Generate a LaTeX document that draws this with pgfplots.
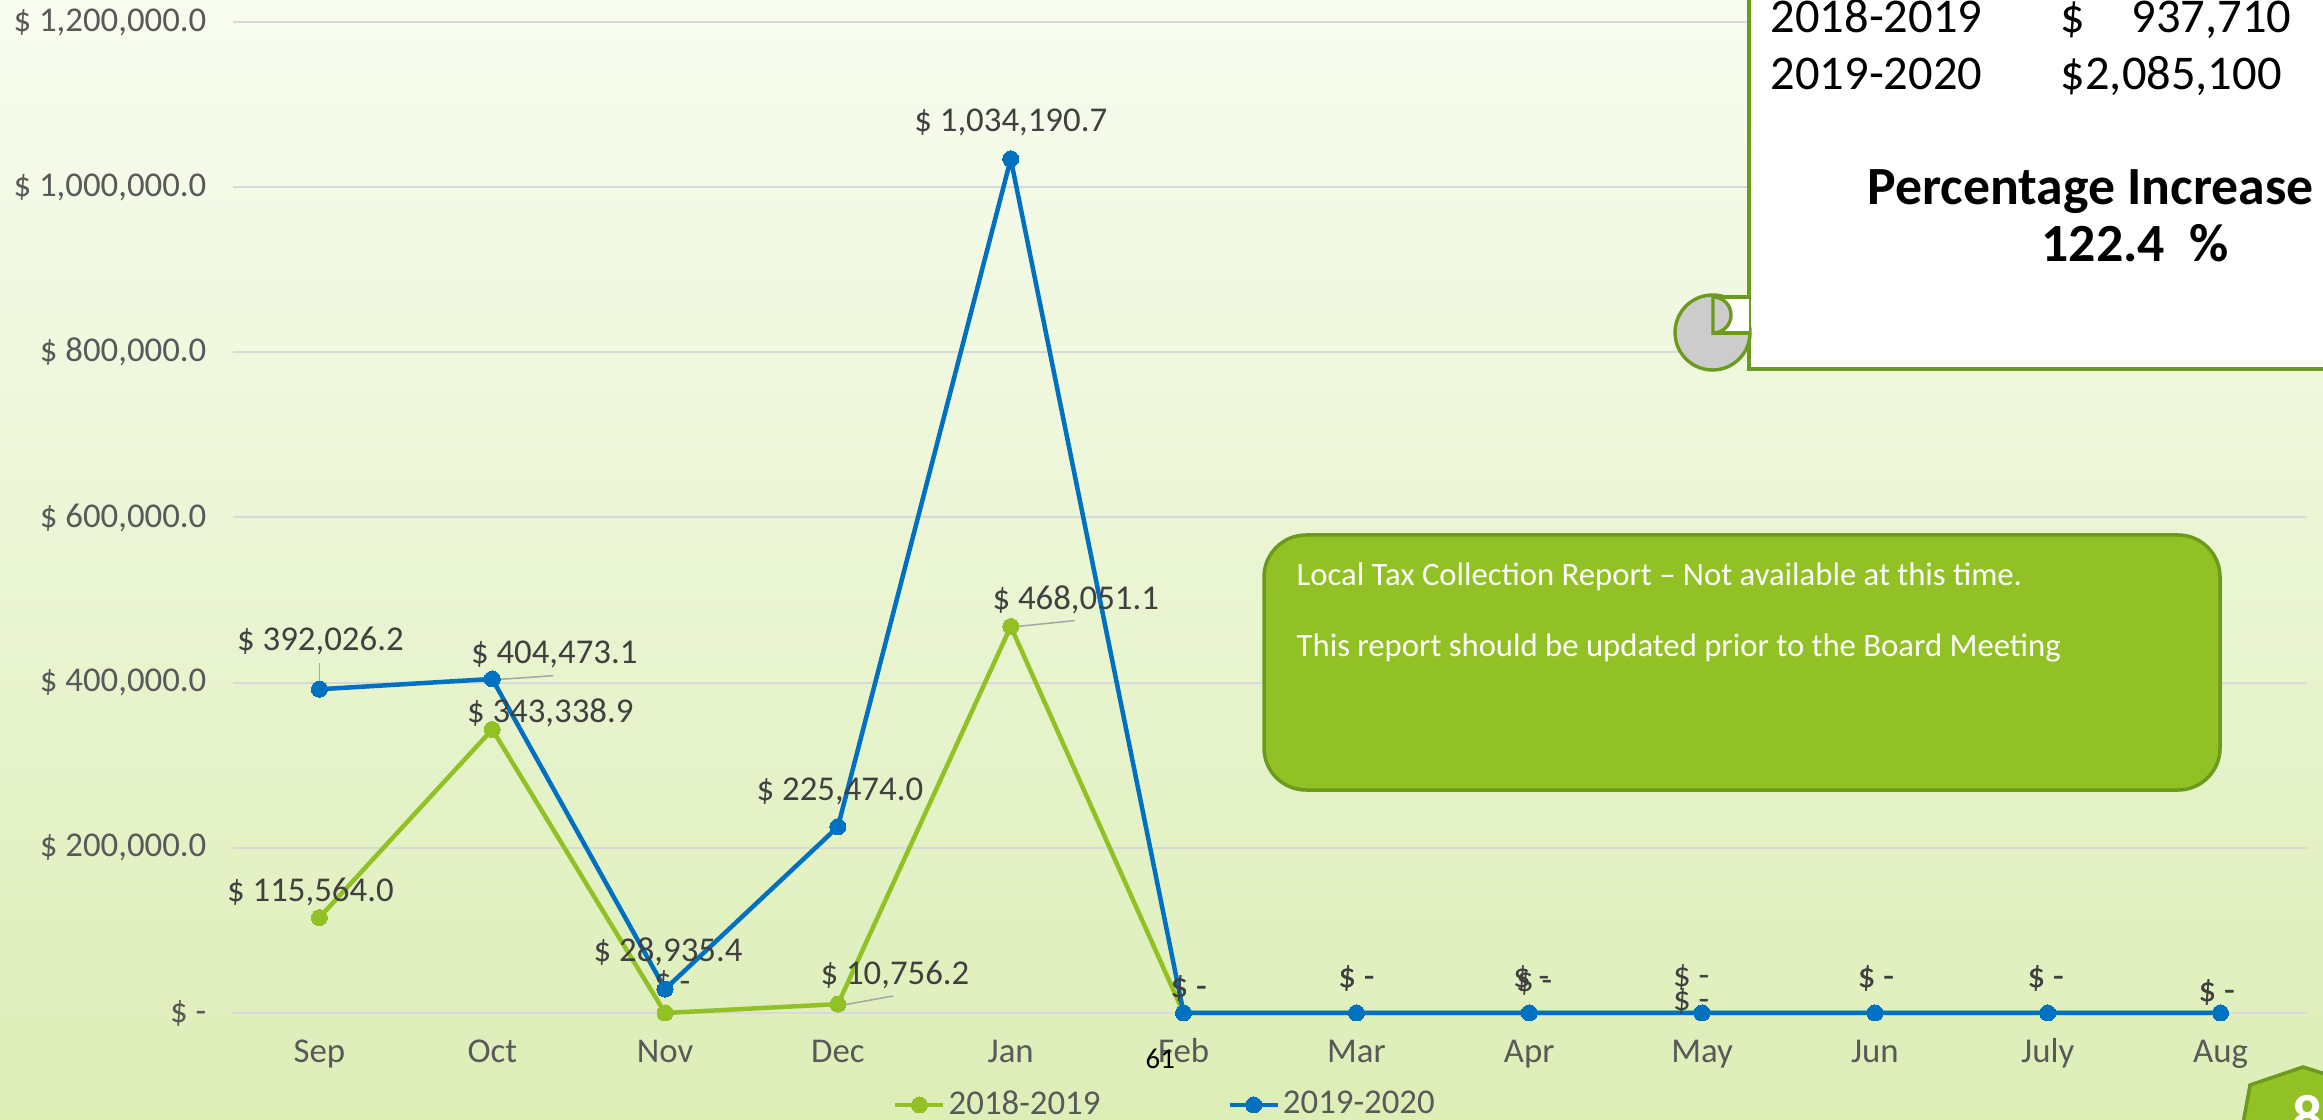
\documentclass[border=0pt]{standalone}
\usepackage{pgfplots}
\pgfplotsset{compat=1.18}
\usepackage{fontspec}
\setmainfont{Carlito}
\definecolor{bgtop}{HTML}{F8FCF0}
\definecolor{bgbot}{HTML}{DDEEB7}
\definecolor{sgreen}{HTML}{92C125}
\definecolor{sblue}{HTML}{0070C0}
\definecolor{boxgreen}{HTML}{92C125}
\definecolor{boxedge}{HTML}{6B9A1D}
\definecolor{ticktext}{HTML}{595959}
\definecolor{labtext}{HTML}{404040}
\definecolor{gridc}{HTML}{D9D9D9}
\definecolor{leader}{HTML}{A6A6A6}
\definecolor{curlgray}{HTML}{CCCCCC}
\tikzset{lbl/.style={anchor=center, inner sep=0pt, font=\fontsize{9.9}{12}\selectfont, text=labtext}}

\begin{document}
\begin{tikzpicture}
\path[use as bounding box] (0,0) rectangle (232.3mm,112mm);
\clip (0,0) rectangle (232.3mm,112mm);
\shade[top color=bgtop, bottom color=bgbot] (0,0) rectangle (232.3mm,112mm);

\begin{axis}[
  at={(23.3mm,10.7mm)}, anchor=south west,
  scale only axis, width=207.4mm, height=99.1mm,
  xmin=-0.5, xmax=11.5, ymin=0, ymax=1200000,
  clip=false,
  axis line style={draw=none},
  major tick length=0pt,
  xtick={0,...,11},
  xticklabels={Sep,Oct,Nov,Dec,Jan,Feb,Mar,Apr,May,Jun,July,Aug},
  ytick={0,200000,400000,600000,800000,1000000,1200000},
  yticklabels={{\$ -},{\$ 200,000.0},{\$ 400,000.0},{\$ 600,000.0},{\$ 800,000.0},{\$ 1,000,000.0},{\$ 1,200,000.0}},
  ymajorgrids,
  major grid style={gridc, line width=0.2mm},
  ticklabel style={font=\fontsize{9.9}{12}\selectfont, text=ticktext, inner sep=0pt},
  yticklabel style={anchor=east, xshift=-2.6mm},
  xticklabel style={anchor=base, yshift=-5.0mm},
  legend style={at={(0.4496,-0.0928)}, anchor=center, legend columns=2, draw=none, fill=none,
    font=\fontsize{9.9}{12}\selectfont, text=ticktext,
    /tikz/every even column/.append style={column sep=12.4mm},
    nodes={inner sep=0.3mm}},
  legend image code/.code={\draw[mark repeat=2,mark phase=2] plot coordinates {(0cm,0cm) (0.24cm,0cm) (0.48cm,0cm)};},
]
\addplot[color=sgreen, line width=0.45mm, mark=*, mark size=0.8mm,
  mark options={line width=0pt, fill=sgreen, draw=sgreen}]
  coordinates {(0,115564.0) (1,343338.9) (2,0) (3,10756.2) (4,468051.1) (5,0) (6,0) (7,0) (8,0) (9,0) (10,0) (11,0)};
\addlegendentry{2018-2019}
\addplot[color=sblue, line width=0.45mm, mark=*, mark size=0.8mm,
  mark options={line width=0pt, fill=sblue, draw=sblue}]
  coordinates {(0,392026.2) (1,404473.1) (2,28935.4) (3,225474.0) (4,1034190.7) (5,0) (6,0) (7,0) (8,0) (9,0) (10,0) (11,0)};
\addlegendentry{2019-2020}
% leader lines
\draw[leader, line width=0.15mm] (axis cs:0,402000) -- (axis cs:0,424000);
\draw[leader, line width=0.15mm] (axis cs:1.02,403636) -- (axis cs:1.353,408485);
\draw[leader, line width=0.15mm] (axis cs:4.03,467879) -- (axis cs:4.37,475151);
\draw[leader, line width=0.15mm] (axis cs:3.03,9697) -- (axis cs:3.32,20606);
% data labels, 2018-2019
\node[lbl, xshift=-0.9mm, yshift=2.6mm] at (axis cs:0,115564.0) {\$ 115,564.0};
\node[lbl, xshift=5.8mm, yshift=1.7mm] at (axis cs:1,343338.9) {\$ 343,338.9};
\node[lbl, xshift=0.7mm, yshift=3.0mm] at (axis cs:2,0) {\$ -};
\node[lbl, xshift=5.7mm, yshift=2.9mm] at (axis cs:3,10756.2) {\$ 10,756.2};
\node[lbl, xshift=6.5mm, yshift=2.7mm] at (axis cs:4,468051.1) {\$ 468,051.1};
\node[lbl, xshift=0.5mm, yshift=2.5mm] at (axis cs:5,0) {\$ -};
\node[lbl, xshift=0mm, yshift=3.5mm] at (axis cs:6,0) {\$ -};
\node[lbl, xshift=0.5mm, yshift=3.1mm] at (axis cs:7,0) {\$ -};
\node[lbl, xshift=-1.1mm, yshift=1.2mm] at (axis cs:8,0) {\$ -};
\node[lbl, xshift=0.1mm, yshift=3.5mm] at (axis cs:9,0) {\$ -};
\node[lbl, xshift=-0.2mm, yshift=3.5mm] at (axis cs:10,0) {\$ -};
\node[lbl, xshift=-0.4mm, yshift=2.1mm] at (axis cs:11,0) {\$ -};
% data labels, 2019-2020
\node[lbl, xshift=0.1mm, yshift=4.8mm] at (axis cs:0,392026.2) {\$ 392,026.2};
\node[lbl, xshift=6.2mm, yshift=2.5mm] at (axis cs:1,404473.1) {\$ 404,473.1};
\node[lbl, xshift=0.3mm, yshift=3.7mm] at (axis cs:2,28935.4) {\$ 28,935.4};
\node[lbl, xshift=0.2mm, yshift=3.5mm] at (axis cs:3,225474.0) {\$ 225,474.0};
\node[lbl, xshift=0mm, yshift=3.6mm] at (axis cs:4,1034190.7) {\$ 1,034,190.7};
\node[lbl, xshift=0.5mm, yshift=2.5mm] at (axis cs:5,0) {\$ -};
\node[lbl, xshift=0mm, yshift=3.5mm] at (axis cs:6,0) {\$ -};
\node[lbl, xshift=0.2mm, yshift=3.5mm] at (axis cs:7,0) {\$ -};
\node[lbl, xshift=-1.1mm, yshift=3.6mm] at (axis cs:8,0) {\$ -};
\node[lbl, xshift=0.1mm, yshift=3.5mm] at (axis cs:9,0) {\$ -};
\node[lbl, xshift=-0.2mm, yshift=3.5mm] at (axis cs:10,0) {\$ -};
\node[lbl, xshift=-0.4mm, yshift=2.1mm] at (axis cs:11,0) {\$ -};
\end{axis}

\begin{scope}[shift={(0mm,112mm)}, x=0.1mm, y=-0.1mm]
  % scroll
  \fill[white] (1749,-30) rectangle (2360,369);
  \draw[boxedge, line width=0.34mm] (1749,-30) -- (1749,369) -- (2360,369);
  \draw[boxedge, line width=0.34mm, fill=curlgray] (1712.5,332.5) circle (37.5);
  \fill[white] (1713,297) rectangle (1749,333);
  \draw[boxedge, line width=0.34mm] (1713,297) -- (1749,297);
  \draw[boxedge, line width=0.34mm, fill=curlgray] (1713,297) arc[start angle=-90, end angle=90, radius=18] -- cycle;
  \draw[boxedge, line width=0.34mm] (1713,333) -- (1749,333);
  \node[anchor=base west, inner sep=0pt, font=\fontsize{13.8}{16}\selectfont] at (1770,33) {2018-2019};
  \node[anchor=base west, inner sep=0pt, font=\fontsize{13.8}{16}\selectfont] at (1770,90) {2019-2020};
  \node[anchor=base west, inner sep=0pt, font=\fontsize{13.8}{16}\selectfont] at (2060,33) {\$};
  \node[anchor=base east, inner sep=0pt, font=\fontsize{13.8}{16}\selectfont] at (2292,33) {937,710};
  \node[anchor=base west, inner sep=0pt, font=\fontsize{13.8}{16}\selectfont] at (2060,90) {\$2,085,100};
  \node[anchor=base west, inner sep=0pt, font=\fontsize{15.3}{18}\selectfont\bfseries] at (1867,205) {Percentage Increase};
  \node[anchor=base, inner sep=0pt, font=\fontsize{15.3}{18}\selectfont\bfseries] at (2135,262) {122.4\ \ \%};
  % green box
  \draw[boxedge, fill=boxgreen, line width=0.35mm, rounded corners=4.2mm] (1264,535) rectangle (2220,790);
  \node[anchor=base west, inner sep=0pt, text=white, font=\fontsize{9.3}{11}\selectfont] at (1296,586) {Local Tax Collection Report – Not available at this time.};
  \node[anchor=base west, inner sep=0pt, text=white, font=\fontsize{9.3}{11}\selectfont] at (1296,657) {This report should be updated prior to the Board Meeting};
  % page marker
  \draw[boxedge, fill=boxgreen, line width=0.35mm] (2240,1140) -- (2250,1085) -- (2303,1067) -- (2360,1085) -- (2360,1140) -- cycle;
  \node[anchor=north west, inner sep=0pt, text=white, font=\fontsize{17}{20}\selectfont\bfseries] at (2292,1095) {8};
  \node[anchor=base west, inner sep=0pt, text=black, font=\fontsize{8.2}{10}\selectfont] at (1145,1068) {61};
\end{scope}
\end{tikzpicture}
\end{document}
